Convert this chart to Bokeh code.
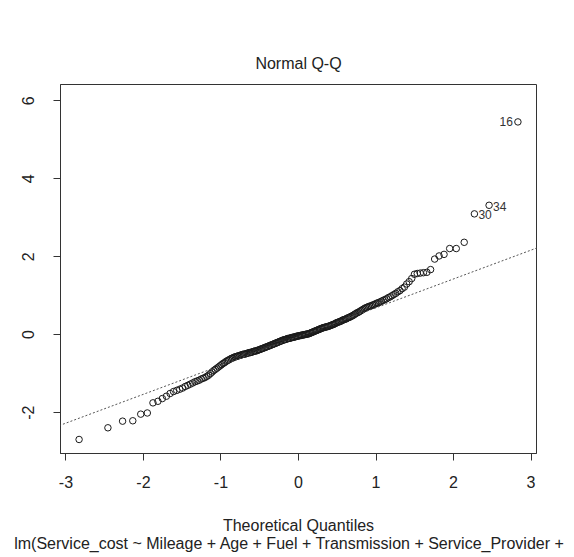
from statistics import NormalDist

from bokeh.plotting import figure
from bokeh.models import Range1d, FixedTicker, Title, ColumnDataSource, Slope
from bokeh.core.properties import value
from bokeh.embed import file_html
from bokeh.resources import INLINE

# ---- data -----------------------------------------------------------------
# sorted standardized residuals (sample quantiles), n = 215
std_residuals = [
    -2.69, -2.39, -2.22, -2.21, -2.04, -2.01, -1.75, -1.71, -1.64, -1.58, -1.51,
    -1.46, -1.43, -1.40, -1.37,
    -1.33, -1.30, -1.27, -1.24, -1.21,
    -1.19, -1.17, -1.14, -1.12, -1.10,
    -1.07, -1.04, -1.00, -0.96, -0.92,
    -0.89, -0.86, -0.83, -0.80, -0.77,
    -0.74, -0.72, -0.69, -0.67, -0.65,
    -0.63, -0.61, -0.60, -0.58, -0.57,
    -0.56, -0.55, -0.54, -0.53, -0.52,
    -0.51, -0.50, -0.50, -0.49, -0.48,
    -0.47, -0.46, -0.46, -0.45, -0.44,
    -0.43, -0.42, -0.42, -0.41, -0.40,
    -0.39, -0.38, -0.37, -0.36, -0.35,
    -0.34, -0.33, -0.32, -0.31, -0.30,
    -0.29, -0.28, -0.27, -0.26, -0.25,
    -0.24, -0.23, -0.22, -0.21, -0.20,
    -0.19, -0.18, -0.17, -0.16, -0.15,
    -0.14, -0.13, -0.13, -0.12, -0.11,
    -0.10, -0.10, -0.09, -0.09, -0.08,
    -0.07, -0.07, -0.06, -0.06, -0.05,
    -0.04, -0.04, -0.03, -0.03, -0.02,
    -0.02, -0.01, -0.01, 0.00, 0.00,
    0.01, 0.01, 0.02, 0.02, 0.03,
    0.04, 0.05, 0.06, 0.07, 0.08,
    0.09, 0.10, 0.11, 0.12, 0.13,
    0.14, 0.15, 0.16, 0.17, 0.18,
    0.185, 0.19, 0.20, 0.205, 0.21,
    0.22, 0.23, 0.24, 0.25, 0.26,
    0.27, 0.28, 0.30, 0.31, 0.32,
    0.33, 0.34, 0.35, 0.37, 0.38,
    0.39, 0.40, 0.41, 0.43, 0.44,
    0.45, 0.47, 0.48, 0.50, 0.52,
    0.54, 0.56, 0.57, 0.59, 0.61,
    0.63, 0.65, 0.67, 0.69, 0.70,
    0.72, 0.73, 0.74, 0.76, 0.77,
    0.79, 0.81, 0.82, 0.84, 0.86,
    0.88, 0.90, 0.92, 0.95, 0.97,
    1.00, 1.03, 1.06, 1.10, 1.13,
    1.18, 1.22, 1.30, 1.36, 1.44,
    1.55, 1.57, 1.58, 1.59, 1.60,
    1.67,
    1.94, 2.02, 2.06, 2.21, 2.21, 2.37, 3.10, 3.32, 5.46,
]

# observation ids shown next to the extreme points, with their sorted rank (0-based)
label_ids = ["16", "34", "30"]
label_ranks = [214, 213, 212]

# reference line (qqline)
qq_intercept = -0.05
qq_slope = 0.74

x_ticks = [-3, -2, -1, 0, 1, 2, 3]
x_tick_labels = ["-3", "-2", "-1", "0", "1", "2", "3"]
y_ticks = [-2, 0, 2, 4, 6]
y_tick_labels = ["-2", "0", "2", "4", "6"]

title_text = "Normal Q-Q"
x_label = "Theoretical Quantiles"
sub_caption = "lm(Service_cost ~ Mileage + Age + Fuel + Transmission + Service_Provider + ..."

# theoretical quantiles as qqnorm computes them: qnorm(ppoints(n))
n = len(std_residuals)
nd = NormalDist()
theoretical = [nd.inv_cdf((i + 0.5) / n) for i in range(n)]

FONT = "Liberation Sans"
INK = "#333333"
TXT = "#222222"
FS = "16px"

p = figure(
    frame_width=476, frame_height=369,
    x_range=Range1d(-3.07, 3.07), y_range=Range1d(-3.05, 6.42),
    output_backend="svg", toolbar_location=None,
    min_border_left=60, min_border_right=30, min_border_top=84, min_border_bottom=100,
    background_fill_color="white", border_fill_color="white",
)
p.outline_line_color = INK
p.outline_line_width = 1
p.xgrid.visible = False
p.ygrid.visible = False

# title
p.title.text = title_text
p.title.align = "center"
p.title.text_font = FONT
p.title.text_font_size = FS
p.title.text_font_style = "normal"
p.title.text_color = TXT
p.title.standoff = 26

# axes
for ax in (p.xaxis[0], p.yaxis[0]):
    ax.axis_line_color = INK
    ax.major_tick_line_color = INK
    ax.major_tick_out = 7
    ax.major_tick_in = 0
    ax.minor_tick_line_color = None
    ax.major_label_text_font = FONT
    ax.major_label_text_font_size = FS
    ax.major_label_text_color = TXT

p.xaxis.ticker = FixedTicker(ticks=x_ticks)
p.xaxis.major_label_overrides = {t: l for t, l in zip(x_ticks, x_tick_labels)}
p.xaxis.major_label_standoff = 15
p.xaxis.axis_label = x_label
p.xaxis.axis_label_text_font = FONT
p.xaxis.axis_label_text_font_size = FS
p.xaxis.axis_label_text_font_style = "normal"
p.xaxis.axis_label_text_color = TXT
p.xaxis.axis_label_standoff = 26

p.yaxis.ticker = FixedTicker(ticks=y_ticks)
p.yaxis.major_label_overrides = {t: l for t, l in zip(y_ticks, y_tick_labels)}
p.yaxis.major_label_orientation = "vertical"
p.yaxis.major_label_standoff = 19

sub = Title(text=sub_caption, align="center", text_font=FONT, text_font_size=FS,
            text_font_style="normal", text_color=TXT, standoff=-7)
p.add_layout(sub, "below")

# reference line
p.add_layout(Slope(gradient=qq_slope, y_intercept=qq_intercept,
                   line_color="#555555", line_width=1, line_dash="2 2"))

# points
src = ColumnDataSource(data=dict(x=theoretical, y=std_residuals))
p.scatter("x", "y", source=src, marker="circle", size=6.5, fill_color=None,
          line_color="#1a1a1a", line_width=1)

# id labels
left_src = ColumnDataSource(data=dict(
    x=[theoretical[r] for r, l in zip(label_ranks, label_ids) if l == "16"],
    y=[std_residuals[r] for r, l in zip(label_ranks, label_ids) if l == "16"],
    t=[l for l in label_ids if l == "16"]))
right_src = ColumnDataSource(data=dict(
    x=[theoretical[r] for r, l in zip(label_ranks, label_ids) if l != "16"],
    y=[std_residuals[r] for r, l in zip(label_ranks, label_ids) if l != "16"],
    t=[l for l in label_ids if l != "16"]))
p.text("x", "y", text="t", source=left_src, text_align="right", text_baseline="middle",
       x_offset=-5, text_font=value(FONT), text_font_size="12px", text_color="#333333")
p.text("x", "y", text="t", source=right_src, text_align="left", text_baseline="middle",
       x_offset=4, y_offset=1, text_font=value(FONT), text_font_size="12px",
       text_color="#333333")

open("out.html", "w").write(file_html(p, INLINE))
